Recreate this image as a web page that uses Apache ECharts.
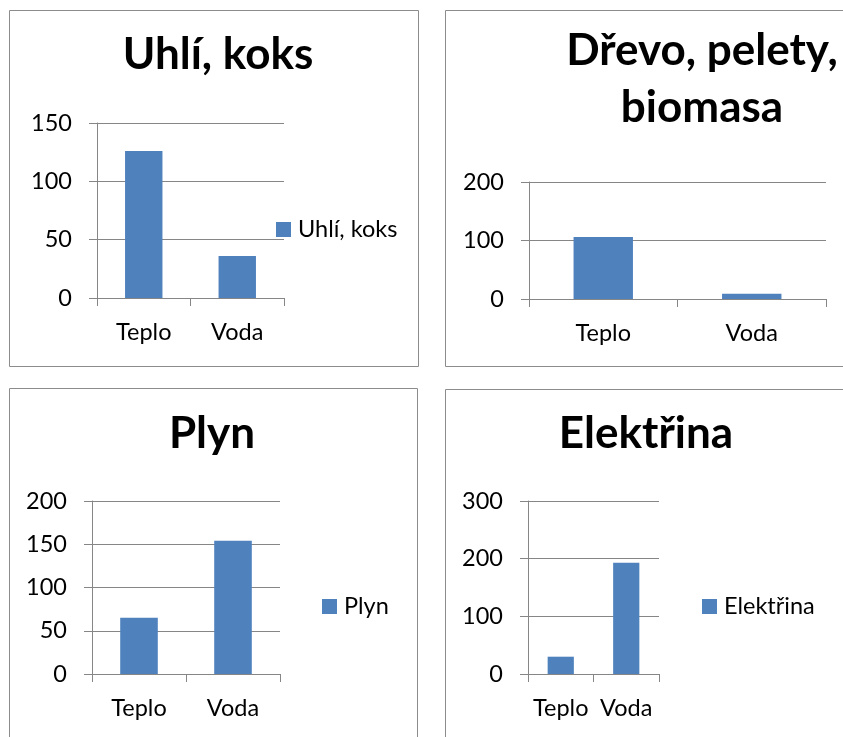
<!DOCTYPE html>
<html>
<head>
<meta charset="utf-8">
<script src="https://cdn.jsdelivr.net/npm/echarts@6/dist/echarts.min.js"></script>
<style>
  html, body { margin: 0; padding: 0; background: #fff; overflow: hidden; }
  #main { width: 843px; height: 737px; }
</style>
</head>
<body>
<div id="main"></div>
<script>
	var categories = ['Teplo', 'Voda'];
	var uhliData = [126, 36];
	var drevoData = [106, 9];
	var plynData = [65, 154];
	var elektrinaData = [30, 193];

	var titles = ['Uhlí, koks', 'Dřevo, pelety,\nbiomasa', 'Plyn', 'Elektřina'];
	var seriesNames = ['Uhlí, koks', 'Dřevo, pelety, biomasa', 'Plyn', 'Elektřina'];

	var FONT = 'Lato';
	var GRID_COLOR = '#868686';
	var BAR_COLOR = '#4F81BD';
	var TEXT_SIZE = 23.5;

	// ramecky panelu
	var frames = [
		{x: 9.5, y: 10.5, w: 409, h: 356},
		{x: 445.5, y: 10.5, w: 420, h: 356},
		{x: 9.5, y: 388.5, w: 408, h: 400},
		{x: 445.5, y: 389.5, w: 420, h: 400}
	];

	// plochy grafu
	var grids = [
		{left: 97, top: 123, width: 187, height: 175},
		{left: 529, top: 182, width: 297, height: 117},
		{left: 92, top: 501, width: 188, height: 173},
		{left: 528, top: 501, width: 131, height: 173}
	];

	var yMax = [150, 200, 200, 300];
	var yStep = [50, 100, 50, 100];
	var dataList = [uhliData, drevoData, plynData, elektrinaData];

	var titlePos = [
		{x: 218, y: 30, lh: 50},
		{x: 702, y: 22, lh: 57},
		{x: 212, y: 409, lh: 50},
		{x: 646, y: 409, lh: 50}
	];

	var legendPos = [
		{x: 276, y: 217.5},
		null,
		{x: 322, y: 594.5},
		{x: 702, y: 594.5}
	];

	function $each(arr, fn) {
		for (var i = 0; i < arr.length; i++) {
			fn(i, arr[i]);
		}
	}

	var buildOption = function() {
		var option = {
			animation: false,
			title: [],
			legend: [],
			grid: [],
			xAxis: [],
			yAxis: [],
			series: [],
			graphic: []
		};

		$each(frames, function(i, f) {
			option.graphic.push({
				type: 'rect',
				shape: {x: f.x, y: f.y, width: f.w, height: f.h},
				style: {fill: 'none', stroke: '#8c8c8c', lineWidth: 1},
				silent: true
			});
		});

		$each(grids, function(i, g) {
			option.grid.push({
				left: g.left, top: g.top, width: g.width, height: g.height,
				containLabel: false
			});

			option.title.push({
				text: titles[i],
				left: titlePos[i].x,
				top: titlePos[i].y,
				padding: 0,
				textAlign: 'center',
				textStyle: {
					fontFamily: FONT,
					fontWeight: 'bold',
					fontSize: 44,
					lineHeight: titlePos[i].lh,
					color: '#000'
				}
			});

			option.xAxis.push({
				type: 'category',
				gridIndex: i,
				data: categories,
				axisLine: {lineStyle: {color: GRID_COLOR, width: 1}},
				axisTick: {show: true, length: 8, lineStyle: {color: GRID_COLOR}},
				axisLabel: {
					interval: 0,
					hideOverlap: false,
					margin: 22,
					fontFamily: FONT,
					fontSize: TEXT_SIZE,
					color: '#000'
				}
			});

			option.yAxis.push({
				type: 'value',
				gridIndex: i,
				min: 0,
				max: yMax[i],
				interval: yStep[i],
				axisLine: {show: true, lineStyle: {color: GRID_COLOR, width: 1}},
				axisTick: {show: true, length: 8, lineStyle: {color: GRID_COLOR}},
				splitLine: {show: true, lineStyle: {color: GRID_COLOR, width: 1}},
				axisLabel: {
					margin: 25,
					fontFamily: FONT,
					fontSize: TEXT_SIZE,
					color: '#000'
				}
			});

			option.series.push({
				name: seriesNames[i],
				type: 'bar',
				xAxisIndex: i,
				yAxisIndex: i,
				barWidth: '40%',
				itemStyle: {color: BAR_COLOR},
				data: dataList[i]
			});

			if (legendPos[i]) {
				option.legend.push({
					data: [seriesNames[i]],
					left: legendPos[i].x,
					top: legendPos[i].y,
					icon: 'rect',
					itemWidth: 15,
					itemHeight: 15,
					itemGap: 0,
					padding: 0,
					textStyle: {
						fontFamily: FONT,
						fontSize: TEXT_SIZE,
						color: '#000',
						padding: [0, 0, 0, 2]
					}
				});
			}
		});
		return option;
	};

	var myChart = echarts.init(document.getElementById('main'), null, {renderer: 'canvas'});
	myChart.setOption(buildOption());
</script>
</body>
</html>
